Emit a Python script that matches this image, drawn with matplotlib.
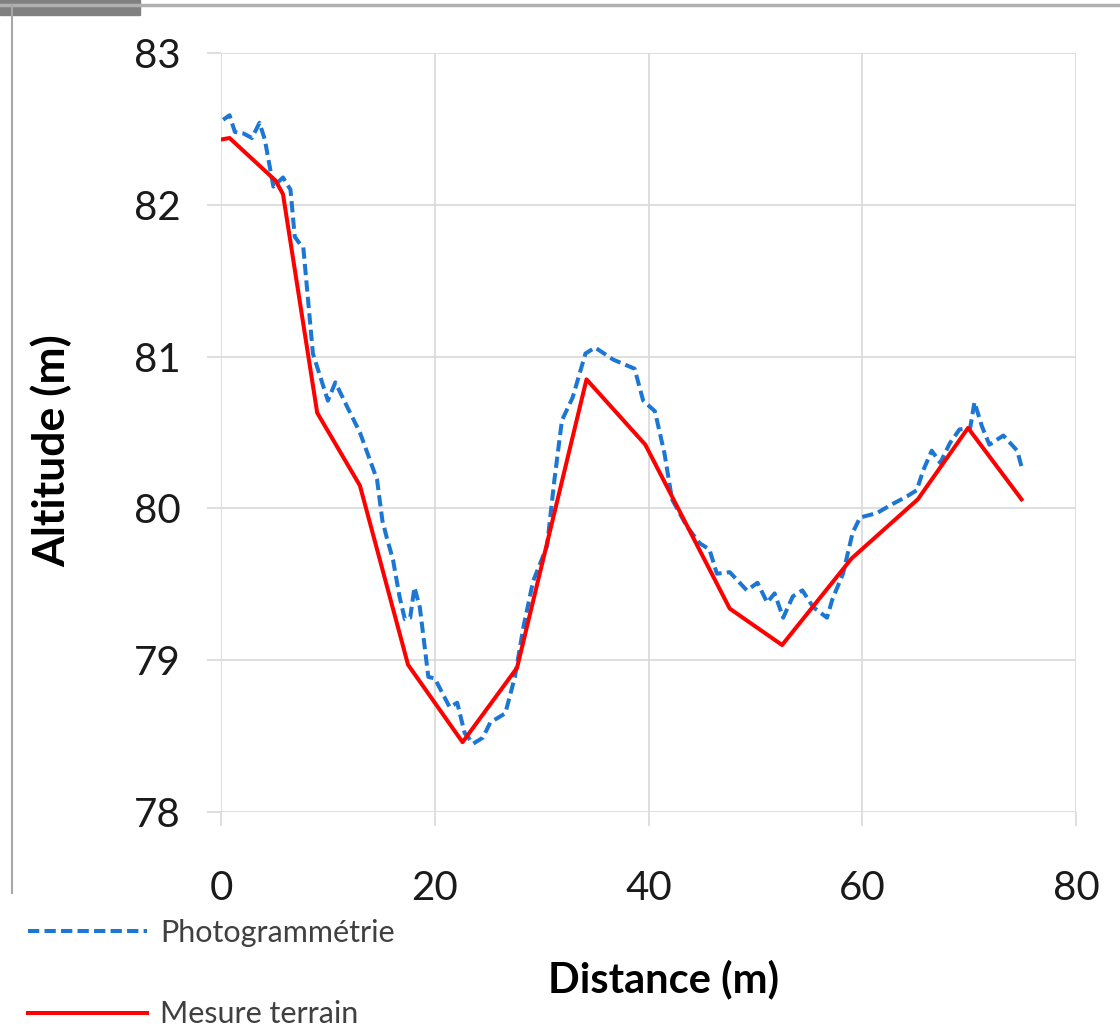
import numpy as np
import matplotlib
matplotlib.use('Agg')
import matplotlib.pyplot as plt
from matplotlib.lines import Line2D
from matplotlib.patches import Rectangle

plt.rcParams['font.family'] = ['Lato', 'DejaVu Sans']

# Mesure terrain (ligne rouge)
terrain_x = [0, 0.8, 5.1, 5.8, 9.0, 13.0, 17.5, 22.6, 27.7, 34.2, 39.7, 47.6, 52.5,
             59.0, 65.2, 69.9, 74.9]
terrain_y = [82.43, 82.44, 82.16, 82.07, 80.63, 80.15, 78.97, 78.46, 78.95, 80.85,
             80.42, 79.34, 79.10, 79.67, 80.06, 80.53, 80.06]

# Photogrammetrie (ligne bleue pointillee)
photo_x = [0.2, 0.8, 1.3, 2.1, 2.9, 3.6, 4.1, 4.9, 5.8, 6.5, 6.9, 7.4, 7.7, 8.6, 10.0,
           10.7, 11.8, 13.0, 14.6, 15.1, 15.5, 16.1, 16.7, 17.2, 17.7, 18.1, 18.6,
           19.4, 20.0, 21.4, 22.1, 22.8, 23.6, 24.5, 25.2, 26.6, 27.5, 28.3, 29.2,
           30.5, 31.2, 31.9, 32.9, 34.1, 35.0, 36.7, 38.7, 39.5, 40.6, 41.5, 42.2,
           43.6, 44.8, 45.7, 46.4, 47.6, 49.2, 50.2, 51.1, 51.8, 52.6, 53.5, 54.4,
           55.4, 56.7, 57.2, 58.2, 59.1, 59.8, 61.4, 62.6, 64.2, 65.1, 65.7, 66.5,
           67.3, 68.2, 69.1, 70.1, 70.5, 71.2, 71.9, 73.2, 74.5, 75.0]
photo_y = [82.56, 82.59, 82.48, 82.47, 82.44, 82.54, 82.43, 82.12, 82.18, 82.10, 81.79,
           81.74, 81.72, 81.02, 80.71, 80.83, 80.67, 80.50, 80.19, 79.92, 79.81, 79.66,
           79.42, 79.27, 79.28, 79.48, 79.35, 78.89, 78.88, 78.69, 78.72, 78.52, 78.45,
           78.49, 78.59, 78.65, 78.89, 79.22, 79.52, 79.75, 80.19, 80.58, 80.73, 81.02,
           81.06, 80.98, 80.92, 80.71, 80.64, 80.36, 80.06, 79.88, 79.77, 79.73, 79.57,
           79.58, 79.46, 79.51, 79.38, 79.44, 79.28, 79.42, 79.46, 79.35, 79.28, 79.40,
           79.57, 79.84, 79.94, 79.97, 80.02, 80.08, 80.12, 80.25, 80.38, 80.30, 80.43,
           80.52, 80.53, 80.70, 80.54, 80.42, 80.48, 80.38, 80.25]

x_ticks = [0, 20, 40, 60, 80]
y_ticks = [78, 79, 80, 81, 82, 83]

fig = plt.figure(figsize=(11.2, 10.33), dpi=100)
ax = fig.add_axes([221 / 1120, 1 - 812 / 1033, 855 / 1120, 759 / 1033])

blue = '#1c76d3'
red = '#ff0000'
ax.plot(photo_x, photo_y, color=blue, lw=2.9, linestyle=(0, (2.8, 1.3)),
        label='Photogrammétrie', zorder=3)
ax.plot(terrain_x, terrain_y, color=red, lw=2.9, label='Mesure terrain', zorder=4,
        solid_joinstyle='round')

ax.set_xlim(0, 80)
ax.set_ylim(78, 83)
ax.set_xticks(x_ticks)
ax.set_yticks(y_ticks)
ax.grid(True, color='#d9d9d9', lw=1.2)
for s in ax.spines.values():
    s.set_visible(False)
ax.tick_params(axis='both', length=10, width=1.2, color='#d9d9d9',
               labelsize=29, labelcolor='#1a1a1a')
ax.tick_params(axis='y', pad=19)
ax.tick_params(axis='x', pad=32)

ax.set_ylabel('Altitude (m)', fontsize=32, fontweight='bold')
ax.yaxis.set_label_coords(-0.198, 0.476)
ax.set_xlabel('Distance (m)', fontsize=30, fontweight='bold')
ax.xaxis.set_label_coords(0.517, -0.221)
ax.xaxis.label.set_va('center')
ax.yaxis.label.set_va('center')

handles = [Line2D([], [], color=blue, lw=2.9, linestyle=(0, (2.8, 1.3))),
           Line2D([], [], color=red, lw=2.9)]
leg = fig.legend(handles, ['Photogrammétrie', 'Mesure terrain'], loc='upper left',
                 bbox_to_anchor=(28 / 1120, 1 - 919 / 1033), frameon=False,
                 fontsize=22, handlelength=3.9, handletextpad=0.42, labelspacing=1.75,
                 borderpad=0, borderaxespad=0)
for t in leg.get_texts():
    t.set_color('#404040')

# cadre de la capture
fig.add_artist(Line2D([0, 1], [1 - 5 / 1033] * 2, color='#b0b0b0', lw=2.5,
                      transform=fig.transFigure))
fig.add_artist(Line2D([12 / 1120] * 2, [1 - 5 / 1033, 1 - 893 / 1033], color='#a8a8a8',
                      lw=1.5, transform=fig.transFigure))
fig.add_artist(Rectangle((0, 1 - 15 / 1033), 140 / 1120, 15 / 1033, color='#808080',
                         transform=fig.transFigure))

fig.savefig('out.png', dpi=100)
